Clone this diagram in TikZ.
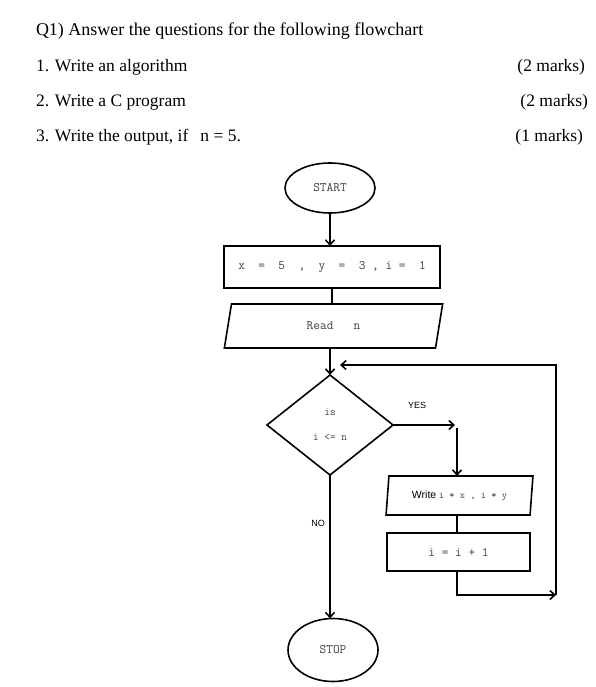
\documentclass[tikz,border=0pt]{standalone}
\usepackage{fontspec}
\setmainfont{Liberation Serif}
\newfontfamily\sansf{Liberation Sans}
\usetikzlibrary{shapes.geometric,arrows.meta}
\begin{document}
\begin{tikzpicture}[x=1pt,y=-1pt,
  every node/.style={inner sep=0pt, outer sep=0pt},
  box/.style={draw, line width=1.6pt, rectangle},
  term/.style={draw, line width=1.6pt, ellipse},
  io/.style={draw, line width=1.6pt, trapezium, trapezium stretches=true},
  dec/.style={draw, line width=1.6pt, diamond},
  conn/.style={line width=1.6pt},
  arr/.style={conn, -{Straight Barb[length=5pt,width=9pt]}},
  hdr/.style={anchor=base west, font=\fontsize{17.5}{20}\selectfont},
  mk/.style={anchor=base east, font=\fontsize{17.5}{20}\selectfont},
  code/.style={font=\fontsize{13}{15}\ttfamily, text=black!75},
  lbl/.style={font=\sansf\fontsize{9}{11}\selectfont}]
\useasboundingbox (0,0) rectangle (595,687);

% header
\node[hdr, font=\fontsize{18}{20}\selectfont] (q)  at (36,36)  {Q1) Answer the questions for the following flowchart};
\node[hdr] (q1) at (36,72)  {1. Write an algorithm};
\node[hdr] (q2) at (36,107) {2. Write a C program};
\node[hdr] (q3) at (36,142) {3. Write the output, if\hspace{12pt}n = 5.};
\node[mk] (m1) at (585,72)  {(2 marks)};
\node[mk] (m2) at (588,107) {(2 marks)};
\node[mk] (m3) at (583,142) {(1 marks)};

% flowchart nodes
\node[term, code, minimum width=90pt, minimum height=50pt] (start) at (330,188) {START};
\node[box, code, minimum width=216pt, minimum height=42pt] (init) at (332,267)
  {x~~=~~5~~,~~y~~=~~3~,~i~=~~1};
\node[io, code, minimum width=219pt, minimum height=44pt,
      trapezium left angle=77, trapezium right angle=103] (read) at (333.5,326) {Read~~~n};
\node[dec, minimum width=126pt, minimum height=100pt, align=center,
      font=\fontsize{11}{13}\ttfamily, text=black!75] (dec) at (330,425) {is\\[12pt]i <= n};
\node[io, minimum width=147pt, minimum height=39pt,
      trapezium left angle=79, trapezium right angle=101] (write) at (459.5,495.5)
  {{\sansf\fontsize{10.5}{12}\selectfont Write} {\fontsize{10}{12}\ttfamily\color{black!75}i~*~x~,~i~*~y}};
\node[box, code, minimum width=143pt, minimum height=38pt] (inc) at (458.5,552) {i~=~i~+~1};
\node[term, code, minimum width=90pt, minimum height=63pt] (stop) at (333,650) {STOP};

% labels
\node[lbl] (yes) at (417,405) {YES};
\node[lbl] (no)  at (318,523) {NO};

% coordinates
\coordinate (ya) at (455,425);
\coordinate (yb) at (457,428);
\coordinate (rb) at (556,595);
\coordinate (back) at (340,365);

% connectors
\draw[arr] (start.south) -- (start.south |- init.north);
\draw[conn] (init.south) -- (init.south |- read.north);
\draw[arr] (read.south -| dec.north) -- (dec.north);
\draw[arr] (dec.east) -- (ya);
\draw[arr] (yb) -- (yb |- write.north);
\draw[conn] (write.south -| yb) -- (yb |- inc.north);
\draw[arr] (yb |- inc.south) |- (rb);
\draw[arr] (rb) |- (back);
\draw[arr] (dec.south) -- (dec.south |- stop.north);
\end{tikzpicture}
\end{document}
